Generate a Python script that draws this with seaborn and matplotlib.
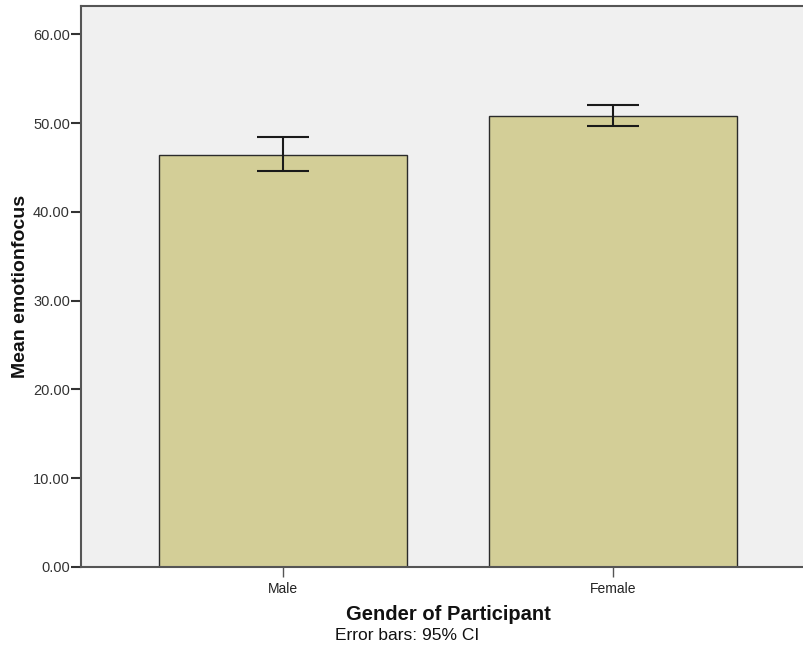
import numpy as np
import pandas as pd
import seaborn as sns
import matplotlib.pyplot as plt
from matplotlib import font_manager

# donnees
genders = ["Male", "Female"]
means = [46.47, 50.82]
ci_low = [44.56, 49.66]
ci_high = [48.39, 52.00]
yticks = [0, 10, 20, 30, 40, 50, 60]

df = pd.DataFrame({"gender": genders, "mean": means})

sns.set_style("white")
names = {f.name for f in font_manager.fontManager.ttflist}
narrow = "Liberation Sans Narrow" if "Liberation Sans Narrow" in names else "Liberation Sans"
plt.rcParams["font.family"] = ["Liberation Sans", "DejaVu Sans"]

fig = plt.figure(figsize=(8.04, 6.55), dpi=100)
W, H = 804, 655
ax = fig.add_axes([81 / W, (H - 567) / H, (815 - 81) / W, (567 - 6) / H])
ax.set_facecolor("#F0F0F0")

sns.barplot(data=df, x="gender", y="mean", order=genders, color="#D3CE97",
            saturation=1, width=0.75, edgecolor="#2b2b2b", linewidth=1.0,
            errorbar=None, ax=ax)

# barres d'erreur IC 95%
x = np.arange(len(genders))
yerr = [np.array(means) - np.array(ci_low), np.array(ci_high) - np.array(means)]
ax.errorbar(x, means, yerr=yerr, fmt="none", ecolor="#1a1a1a",
            elinewidth=1.5, capsize=18.7, capthick=1.5)

ax.set_xlim(-0.612, 1.612)
ax.set_ylim(0, 63.2)
ax.set_yticks(yticks)
ax.set_yticklabels([f"{v:.2f}" for v in yticks], fontsize=10.5, color="#333333")
ax.set_xticks(x)
ax.set_xticklabels(genders, fontsize=10, family=[narrow, "DejaVu Sans"], color="#222222")

ax.tick_params(axis="y", direction="out", length=7, width=1.5, color="#333333", pad=1, left=True)
ax.tick_params(axis="x", direction="out", length=7, width=1.0, color="#555555", pad=4, bottom=True)

for s in ["left", "bottom", "top"]:
    ax.spines[s].set_color("#555555")
    ax.spines[s].set_linewidth(1.5)
ax.spines["right"].set_visible(False)

ax.set_xlabel("Gender of Participant", fontsize=14.5, fontweight="bold", labelpad=6, color="#111111")
ax.set_ylabel("Mean emotionfocus", fontsize=14, fontweight="bold", labelpad=3, color="#111111")

fig.text(407 / W, 1 - 635 / H, "Error bars: 95% CI", ha="center", va="center",
         fontsize=12.5, family=[narrow, "DejaVu Sans"], color="#111111")

fig.savefig("out.png", dpi=100)
